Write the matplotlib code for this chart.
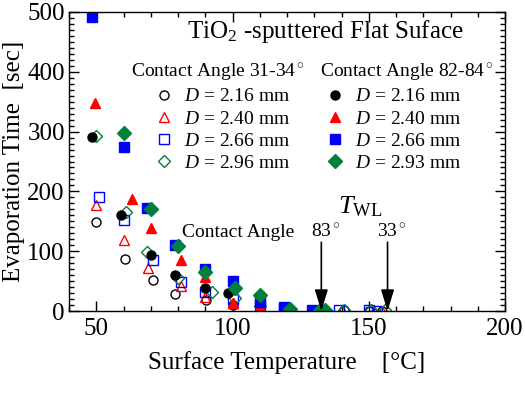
import numpy as np
import matplotlib
matplotlib.use("Agg")
import matplotlib.pyplot as plt
from matplotlib.ticker import MultipleLocator

plt.rcParams['font.family'] = ['Liberation Serif', 'DejaVu Serif']
plt.rcParams['mathtext.fontset'] = 'custom'
plt.rcParams['mathtext.rm'] = 'Liberation Serif'
plt.rcParams['mathtext.it'] = 'Liberation Serif:italic'

# contact angle 31-34 deg (open markers)
t_o216 = [50, 60.5, 71, 79, 90.3, 100, 110, 120, 141, 150, 155]
v_o216 = [149, 87, 52, 28, 18, 10, 5, 2, 1, 0.5, 0.5]
t_o240 = [50, 60, 69, 81, 90, 100, 110, 119, 140, 152, 155]
v_o240 = [178, 118, 72, 41, 24, 14, 6, 2, 1, 0.5, 0.5]
t_o266 = [51, 60, 71, 81, 90, 100, 110, 119, 139, 150, 153]
v_o266 = [190, 152, 86, 49, 32, 20, 10, 4, 1, 1, 0.5]
t_o296 = [50, 61, 68.5, 80, 92.5, 101, 110, 120, 141, 151, 156]
v_o296 = [293, 166, 99, 55, 31, 22, 8, 3, 1, 1, 1]

# contact angle 82-84 deg (filled markers)
t_f216 = [48.5, 59, 70, 79, 90, 98.5, 110, 121, 131]
v_f216 = [291, 161, 94, 61, 38, 30, 10, 3, 1]
t_f240 = [49.5, 63, 70, 81, 90, 100, 110, 120, 130]
v_f240 = [348, 187, 138, 85, 57, 14, 8, 3, 1]
t_f266 = [48.5, 60, 68.5, 79, 90, 100, 110, 119, 129]
v_f266 = [492, 274, 172, 111, 71, 51, 15, 6, 2]
t_f293 = [60, 70, 80, 90, 101, 110, 121, 132, 134]
v_f293 = [298, 170, 108, 65, 39, 27, 3, 1, 1]

# T_WL arrows
twl_t = [132.6, 156.9]
twl_lbl = ['83$^\\circ$', '33$^\\circ$']

green = '#00803c'

fig = plt.figure(figsize=(5.25, 3.94), dpi=100)
ax = fig.add_axes([69/525, 1-311/394, 436/525, 299/394])

ms = 6.5
o1, = ax.plot(t_o216, v_o216, ls='none', marker='o', ms=ms, mfc='none', mec='k', mew=1)
o2, = ax.plot(t_o240, v_o240, ls='none', marker='^', ms=ms+0.5, mfc='none', mec='red', mew=1)
o3, = ax.plot(t_o266, v_o266, ls='none', marker='s', ms=ms, mfc='none', mec='blue', mew=1)
o4, = ax.plot(t_o296, v_o296, ls='none', marker='D', ms=ms, mfc='none', mec=green, mew=1)
f1, = ax.plot(t_f216, v_f216, ls='none', marker='o', ms=ms, color='k')
f2, = ax.plot(t_f240, v_f240, ls='none', marker='^', ms=ms+0.5, color='red')
f3, = ax.plot(t_f266, v_f266, ls='none', marker='s', ms=ms, color='blue')
f4, = ax.plot(t_f293, v_f293, ls='none', marker='D', ms=ms+1, color=green)

ax.set_xlim(40, 200)
ax.set_ylim(0, 500)
ax.xaxis.set_major_locator(MultipleLocator(50))
ax.xaxis.set_minor_locator(MultipleLocator(10))
ax.yaxis.set_major_locator(MultipleLocator(100))
ax.yaxis.set_minor_locator(MultipleLocator(10))
ax.tick_params(which='both', direction='in', top=True, right=True, width=1)
ax.tick_params(which='major', length=7, labelsize=18)
ax.tick_params(which='minor', length=3.5)
ax.tick_params(axis='x', pad=5)
ax.tick_params(axis='y', pad=3)
for s in ax.spines.values():
    s.set_linewidth(1)

ax.set_xlabel('Surface Temperature    [°C]', fontsize=18, labelpad=8)
ax.set_ylabel('Evaporation Time  [sec]', fontsize=18, labelpad=2)

ax.text(0.588, 0.934, 'TiO$_2$ -sputtered Flat Suface', transform=ax.transAxes,
        ha='center', va='center', fontsize=18)

lab = ['$D$ = 2.16 mm', '$D$ = 2.40 mm', '$D$ = 2.66 mm']
leg1 = ax.legend([o1, o2, o3, o4], lab + ['$D$ = 2.96 mm'],
                 title='Contact Angle 31-34$^\\circ$', alignment='left',
                 loc='upper left', bbox_to_anchor=((131 - 69)/436, (311 - 62)/299),
                 frameon=False, fontsize=14, title_fontsize=14, borderpad=0,
                 borderaxespad=0, labelspacing=0.24, handlelength=3.4,
                 handletextpad=-0.7, numpoints=1)
ax.add_artist(leg1)
ax.legend([f1, f2, f3, f4], lab + ['$D$ = 2.93 mm'],
          title='Contact Angle 82-84$^\\circ$', alignment='left',
          loc='upper left', bbox_to_anchor=((320 - 69)/436, (311 - 62)/299),
          frameon=False, fontsize=14, title_fontsize=14, borderpad=0,
          borderaxespad=0, labelspacing=0.24, handlelength=1.55,
          handletextpad=0.26, numpoints=1)

ax.text(122.8, 132, 'Contact Angle', ha='right', va='center', fontsize=14)
for t, l in zip(twl_t, twl_lbl):
    ax.text(t + 1.5, 132, l, ha='center', va='center', fontsize=14)
    ax.annotate('', xy=(t, 0), xytext=(t, 115),
                arrowprops=dict(arrowstyle='-|>,head_length=1.3,head_width=0.4',
                                color='k', lw=1.2, shrinkA=0, shrinkB=0))
ax.text(146.7, 174, '$T_{\\rm WL}$', ha='center', va='center', fontsize=19)

fig.savefig('out.png', dpi=100)
